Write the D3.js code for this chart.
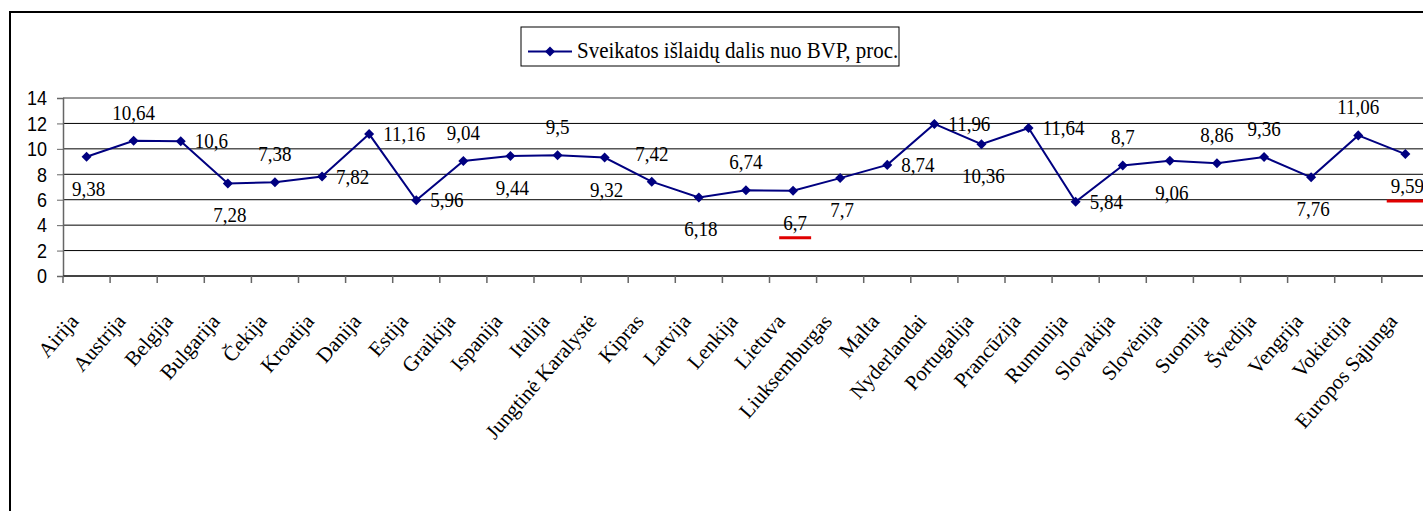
<!DOCTYPE html>
<html>
<head>
<meta charset="utf-8">
<script src="https://cdn.jsdelivr.net/npm/d3@7"></script>
<style>
  html, body { margin: 0; padding: 0; background: #fff; overflow: hidden; }
  svg { display: block; }
</style>
</head>
<body>
<svg id="chart" width="1423" height="511"></svg>
<script>
// Health expenditure as share of GDP, %, by EU country
const countries = [
  "Airija", "Austrija", "Belgija", "Bulgarija", "Čekija", "Kroatija", "Danija",
  "Estija", "Graikija", "Ispanija", "Italija", "Jungtinė Karalystė", "Kipras",
  "Latvija", "Lenkija", "Lietuva", "Liuksemburgas", "Malta", "Nyderlandai",
  "Portugalija", "Prancūzija", "Rumunija", "Slovakija", "Slovėnija", "Suomija",
  "Švedija", "Vengrija", "Vokietija", "Europos Sąjunga"
];
const shareOfGdp = [
  9.38, 10.64, 10.6, 7.28, 7.38, 7.82, 11.16,
  5.96, 9.04, 9.44, 9.5, 9.32, 7.42,
  6.18, 6.74, 6.7, 7.7, 8.74, 11.96,
  10.36, 11.64, 5.84, 8.7, 9.06, 8.86,
  9.36, 7.76, 11.06, 9.59
];
// where each value label sits relative to its marker: a = above, b = below, r = right
const labelSide = [
  "b", "a", "r", "b", "a", "r", "r",
  "r", "a", "b", "a", "b", "a",
  "b", "a", "b", "b", "r", "r",
  "b", "r", "r", "a", "b", "a",
  "a", "b", "a", "b"
];
const yTicks = [0, 2, 4, 6, 8, 10, 12, 14];
const seriesName = "Sveikatos išlaidų dalis nuo BVP, proc.";
// labels underlined in red
const highlighted = ["Lietuva", "Europos Sąjunga"];

const svg = d3.select("#chart");
const navy = "#000080";
const serif = "'Liberation Serif', 'Times New Roman', serif";
const sans = "'Liberation Sans', Arial, sans-serif";

// outer frame
svg.append("rect")
  .attr("x", 10).attr("y", 12)
  .attr("width", 1500).attr("height", 600)
  .attr("fill", "none").attr("stroke", "#000").attr("stroke-width", 2);

const plot = { left: 63, top: 98, bottom: 276, right: 63 + 29 * 47.1 };

const x = d3.scaleBand().domain(countries).range([plot.left, plot.right]);
const y = d3.scaleLinear().domain([0, 14]).range([plot.bottom, plot.top]);

// horizontal gridlines
svg.append("g").selectAll("line").data(yTicks.filter(d => d > 0)).join("line")
  .attr("x1", plot.left).attr("x2", plot.right)
  .attr("y1", d => y(d)).attr("y2", d => y(d))
  .attr("stroke", d => d === 14 ? "#999" : "#000")
  .attr("stroke-width", d => d === 14 ? 2 : 1);

// y axis
const yAxis = svg.append("g")
  .attr("transform", `translate(${plot.left},0)`)
  .call(d3.axisLeft(y).tickValues(yTicks).tickSize(6).tickPadding(10).tickFormat(d3.format("d")));
yAxis.select(".domain").attr("stroke", "#666").attr("stroke-width", 1.5);
yAxis.selectAll(".tick line").attr("stroke", "#666");
yAxis.selectAll("text")
  .attr("font-family", sans).attr("font-size", 18).attr("fill", "#000")
  .attr("transform", "scale(1,1.12)")
  .attr("dy", "0.34em");

// x axis: ticks sit on category boundaries
const xAxis = svg.append("g").attr("transform", `translate(0,${plot.bottom})`);
xAxis.append("line")
  .attr("x1", plot.left).attr("x2", plot.right)
  .attr("stroke", "#444").attr("stroke-width", 2);
xAxis.selectAll("line.tk").data(countries).join("line").attr("class", "tk")
  .attr("x1", d => x(d)).attr("x2", d => x(d))
  .attr("y1", 0).attr("y2", 7)
  .attr("stroke", "#666").attr("stroke-width", 1.5);
xAxis.selectAll("text").data(countries).join("text")
  .attr("transform", d => `translate(${x(d) + x.bandwidth() / 2 - 7},${46}) rotate(-49)`)
  .attr("text-anchor", "end")
  .attr("font-family", serif).attr("font-size", 21)
  .text(d => d);

// series line
const pts = countries.map((c, i) => ({ c, v: shareOfGdp[i], side: labelSide[i] }));
const cx = d => x(d.c) + x.bandwidth() / 2;
svg.append("path").datum(pts)
  .attr("fill", "none").attr("stroke", navy).attr("stroke-width", 2)
  .attr("d", d3.line().x(cx).y(d => y(d.v)));

// diamond markers
const diamond = d3.symbol().type(d3.symbolDiamond2).size(64);
svg.append("g").selectAll("path").data(pts).join("path")
  .attr("transform", d => `translate(${cx(d)},${y(d.v)})`)
  .attr("d", diamond).attr("fill", navy);

// value labels with decimal comma
const fmt = v => String(v).replace(".", ",");
const labelPos = d => {
  if (d.side === "a") return { x: cx(d), y: y(d.v) - 21, anchor: "middle" };
  if (d.side === "b") return { x: cx(d) + 2, y: y(d.v) + 39, anchor: "middle" };
  return { x: cx(d) + 14, y: y(d.v) + 7, anchor: "start" };
};
const labels = svg.append("g").selectAll("text").data(pts).join("text")
  .attr("transform", d => `translate(${labelPos(d).x},${labelPos(d).y}) scale(1,1.06)`)
  .attr("text-anchor", d => labelPos(d).anchor)
  .attr("font-family", serif).attr("font-size", 19).attr("fill", "#000")
  .text(d => fmt(d.v));

// red underline marks
labels.filter(d => highlighted.includes(d.c)).each(function (d) {
  const b = this.getBBox();
  const p = labelPos(d);
  const left = p.x + b.x, right = p.x + b.x + b.width;
  svg.append("line")
    .attr("x1", left - 4).attr("x2", right + 4)
    .attr("y1", p.y + 8).attr("y2", p.y + 8)
    .attr("stroke", "#e00000").attr("stroke-width", 3);
});

// legend
const lg = svg.append("g").attr("transform", "translate(521,27)");
lg.append("rect").attr("width", 378).attr("height", 39)
  .attr("fill", "#fff").attr("stroke", "#000").attr("stroke-width", 1);
lg.append("line").attr("x1", 7).attr("x2", 51).attr("y1", 24.5).attr("y2", 24.5)
  .attr("stroke", navy).attr("stroke-width", 2);
lg.append("path").attr("transform", "translate(29,24.5)").attr("d", diamond).attr("fill", navy);
lg.append("text").attr("transform", "translate(56,31) scale(1,1.08)")
  .attr("font-family", serif).attr("font-size", 21).attr("fill", "#000")
  .text(seriesName);
</script>
</body>
</html>
